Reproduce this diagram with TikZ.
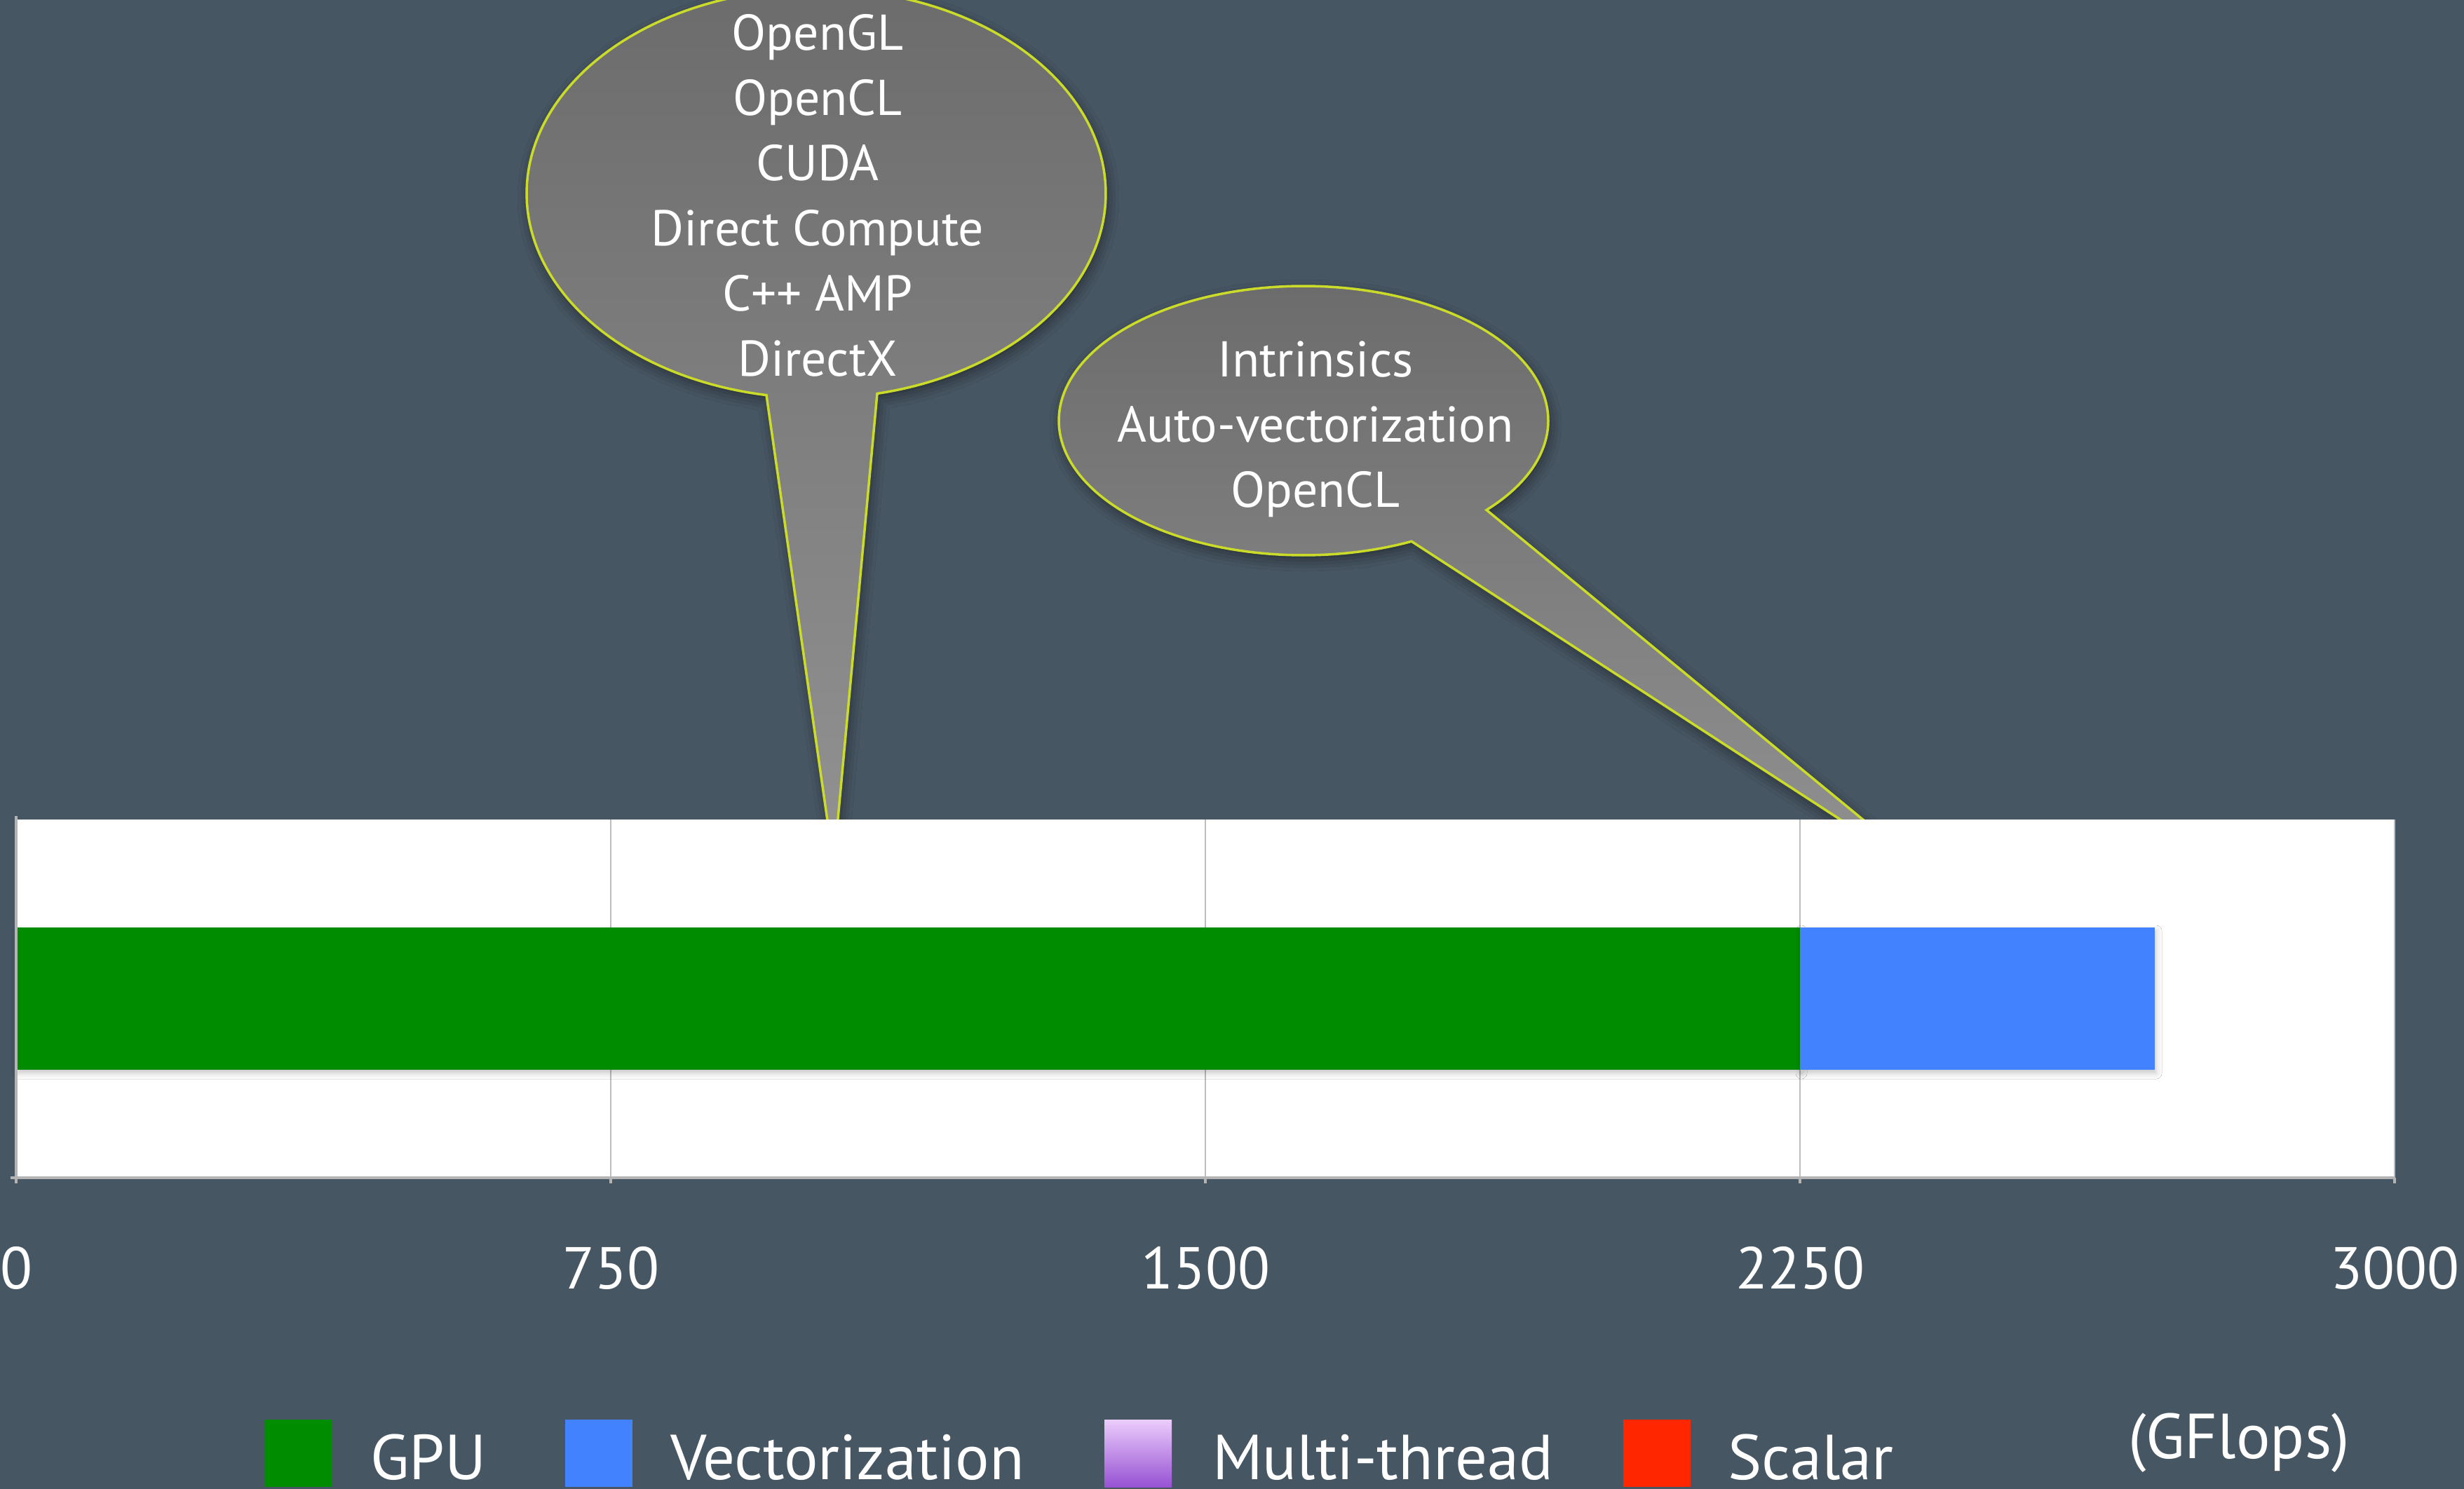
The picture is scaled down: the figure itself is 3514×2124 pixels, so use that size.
\documentclass[tikz,border=0pt]{standalone}
\usepackage{fontspec}
\setmainfont{PT Sans}
\usetikzlibrary{shadows.blur}

\definecolor{slidebg}{HTML}{475663}
\definecolor{calloutedge}{HTML}{CBDB2A}
\definecolor{calloutTop}{HTML}{6C6C6C}
\definecolor{calloutBot}{HTML}{929292}
\definecolor{gpugreen}{HTML}{008C00}
\definecolor{vecblue}{HTML}{4282FF}
\definecolor{mtTop}{HTML}{EBCDFB}
\definecolor{mtBot}{HTML}{9752D3}
\definecolor{scalarred}{HTML}{FF2600}
\definecolor{gridgray}{HTML}{BDBDBD}
\definecolor{axisgray}{HTML}{B4B4B4}

\begin{document}
\begin{tikzpicture}[x=0.01cm, y=-0.01cm,
  every node/.style={inner sep=0pt, outer sep=0pt, text=white},
  callout/.style={draw=calloutedge, line width=0.035cm, line join=miter,
    top color=calloutTop, bottom color=calloutBot,
    blur shadow={shadow xshift=0.03cm, shadow yshift=-0.07cm,
      shadow blur radius=0.16cm, shadow opacity=45}},
  calltext/.style={anchor=base, font=\fontsize{20.4}{24}\selectfont},
  ticklabel/.style={anchor=base, font=\fontsize{24}{28}\selectfont},
  legendtext/.style={anchor=base west, text depth=0pt, font=\fontsize{25.8}{30}\selectfont},
  swatch/.style={minimum width=0.96cm, minimum height=0.96cm, anchor=north west},
  gridline/.style={draw=gridgray, line width=0.022cm},
  axisline/.style={draw=axisgray, line width=0.035cm},
  barshadow/.style={blur shadow={shadow xshift=0.02cm, shadow yshift=-0.05cm,
      shadow blur radius=0.08cm, shadow opacity=22}},
]
% page and background
\useasboundingbox (0,0) rectangle (3514,2124);
\fill[slidebg] (0,0) rectangle (3514,2124);

% callout listing the GPU programming models
\coordinate (gpuTip) at (1189,1233);
\path[callout] plot[variable=\t, domain=-260.1:77.84, samples=180]
  ({1164+413*cos(\t)},{276+292*sin(\t)}) -- (gpuTip) -- cycle;
\foreach \line [count=\i] in {OpenGL, OpenCL, CUDA, Direct Compute, C++ AMP, DirectX}
  \node[calltext] (gpuline\i) at (1166,{71+93*(\i-1)}) {\line};

% callout listing the SIMD techniques
\coordinate (vecTip) at (2777,1268);
\path[callout] plot[variable=\t, domain=-296.2:41.6, samples=180]
  ({1859+349*cos(\t)},{600+192*sin(\t)}) -- (vecTip) -- cycle;
\foreach \line [count=\i] in {Intrinsics, Auto-vectorization, OpenCL}
  \node[calltext] (vecline\i) at (1876,{537+93*(\i-1)}) {\line};

% plot area
\coordinate (plotNW) at (23,1169);
\coordinate (plotSE) at (3415,1680);
\fill[white] (plotNW) rectangle (plotSE);
\foreach \gx in {871,1719,2567,3415}
  \draw[gridline] (\gx,1169) -- (\gx,1688);

% stacked bar
\fill[gpugreen, barshadow] (23,1323) rectangle (2567,1526);
\fill[vecblue, barshadow] (2567,1323) rectangle (3073,1526);

% axes and ticks
\draw[axisline] (23,1164) -- (23,1688);
\draw[axisline] (15,1680) -- (3415,1680);
\foreach \gx in {871,1719,2567,3415}
  \draw[axisline] (\gx,1680) -- (\gx,1688);

% tick labels
\foreach \v/\gx in {0/23,750/871,1500/1719,2250/2567,3000/3415}
  \node[ticklabel] (tick\v) at (\gx,1838) {\v};

% legend
\node[swatch, fill=gpugreen] (swGPU) at (377,2025) {};
\node[legendtext] (lgGPU) at (528,2110) {GPU};
\node[swatch, fill=vecblue] (swVec) at (806,2025) {};
\node[legendtext] (lgVec) at (956,2110) {Vectorization};
\node[swatch, top color=mtTop, bottom color=mtBot] (swMT) at (1575,2025) {};
\node[legendtext] (lgMT) at (1729,2110) {Multi-thread};
\node[swatch, fill=scalarred] (swSc) at (2315,2025) {};
\node[legendtext] (lgSc) at (2464,2110) {Scalar};
\node[legendtext] (unit) at (3035,2080) {(GFlops)};
\end{tikzpicture}
\end{document}
